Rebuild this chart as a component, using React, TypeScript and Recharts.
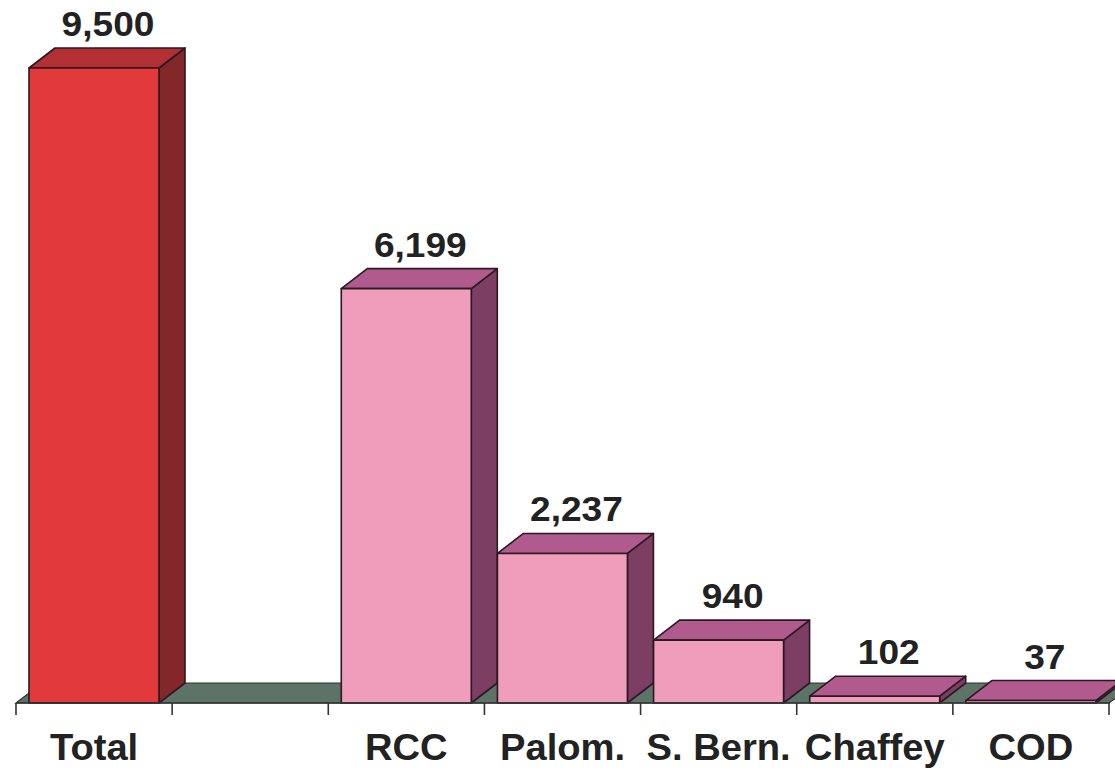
import { BarChart, Bar, XAxis, YAxis, LabelList, ReferenceArea } from "recharts"

const categories = ["Total", "", "RCC", "Palom.", "S. Bern.", "Chaffey", "COD"]
const enrollment = [9500, null, 6199, 2237, 940, 102, 37]

const data = categories.map((name, i) => ({ name, value: enrollment[i] }))

const DX = 26
const DY = 20
const FONT = "'Liberation Sans', Arial, sans-serif"

const RED = { front: "#e23a3b", top: "#b22f34", side: "#83272b" }
const PINK = { front: "#ef9dbb", top: "#b05a8e", side: "#7c3f63" }

function Box3D(props: any) {
  const { x, y, width, height, index } = props
  if (x == null || height == null) return null
  const c = index === 0 ? RED : PINK
  const b = y + height
  const r = x + width
  return (
    <g stroke="#2a1a20" strokeWidth={1.6} strokeLinejoin="round">
      <polygon points={`${r},${y} ${r + DX},${y - DY} ${r + DX},${b - DY} ${r},${b}`} fill={c.side} />
      <polygon points={`${x},${y} ${x + DX},${y - DY} ${r + DX},${y - DY} ${r},${y}`} fill={c.top} />
      <rect x={x} y={y} width={width} height={height} fill={c.front} />
    </g>
  )
}

function Floor(props: any) {
  const { x, y, width, height } = props
  const b = y + height
  return (
    <polygon
      points={`${x},${b} ${x + DX},${b - DY} ${x + width + DX},${b - DY} ${x + width},${b}`}
      fill="#5d7367"
      stroke="#2b3530"
      strokeWidth={1.2}
    />
  )
}

// text in the source is a touch wider than Liberation Sans, so stretch it a little
function WideText({ x, y, size, children }: any) {
  return (
    <text
      transform={`translate(${x},${y}) scale(1.06,1)`}
      textAnchor="middle"
      fontFamily={FONT}
      fontWeight="bold"
      fontSize={size}
      fill="#222"
    >
      {children}
    </text>
  )
}

function ValueLabel(props: any) {
  const { x, y, width, value } = props
  if (value == null) return null
  return (
    <WideText x={x + width / 2 + DX / 2 + 1} y={y - DY - 12} size={35}>
      {Number(value).toLocaleString("en-US")}
    </WideText>
  )
}

function CatTick(props: any) {
  const { x, y, payload, index } = props
  const half = payload?.offset || 78
  const top = y - 2
  return (
    <g>
      <line x1={x - half} x2={x - half} y1={top} y2={top + 12} stroke="#333" strokeWidth={1.6} />
      {index === categories.length - 1 && (
        <line x1={x + half} x2={x + half} y1={top} y2={top + 12} stroke="#333" strokeWidth={1.6} />
      )}
      <WideText x={x} y={top + 57} size={36}>
        {payload.value}
      </WideText>
    </g>
  )
}

export default function App() {
  return (
    <div style={{ width: 1115, height: 770, background: "#fff" }}>
      <style>{`body{margin:0}`}</style>
      <BarChart
        width={1115}
        height={770}
        data={data}
        margin={{ top: 68, right: 6, left: 16, bottom: 0 }}
        barSize={130}
      >
        <ReferenceArea y1={0} shape={<Floor />} ifOverflow="visible" />
        <XAxis
          dataKey="name"
          interval={0}
          height={67}
          tickLine={false}
          tickSize={0}
          axisLine={{ stroke: "#333", strokeWidth: 1.6 }}
          tick={(p: any) => <CatTick {...p} />}
        />
        <YAxis hide domain={[0, 9500]} />
        <Bar dataKey="value" shape={<Box3D />} isAnimationActive={false}>
          <LabelList dataKey="value" content={<ValueLabel />} />
        </Bar>
      </BarChart>
    </div>
  )
}
